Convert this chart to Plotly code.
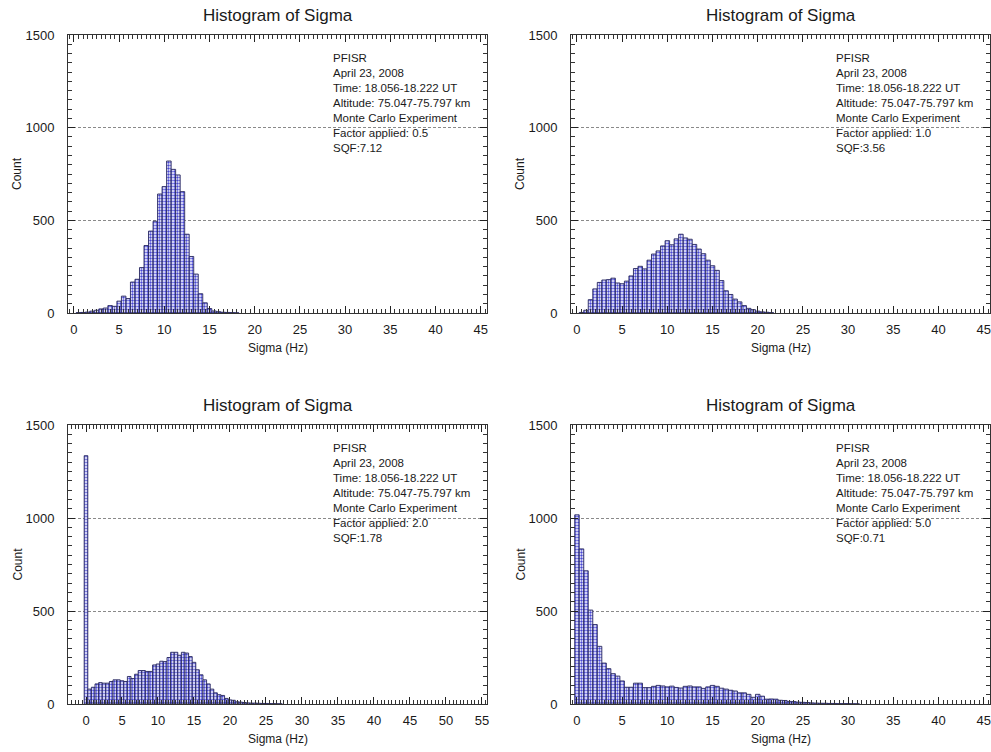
import plotly.graph_objects as go

# Histogram counts per 0.5 Hz bin (bin centres start at the given value)
bin_width = 0.5

start_f05 = 0.5
counts_f05 = [2, 3, 5, 10, 15, 22, 27, 40, 36, 64, 91, 78, 167, 182, 245, 364,
              442, 495, 642, 682, 820, 775, 745, 655, 425, 305, 210, 104, 55,
              24, 11, 7, 4, 3, 2, 1]

start_f10 = 0.5
counts_f10 = [3, 15, 72, 130, 165, 178, 180, 188, 162, 158, 172, 200, 240, 252,
              238, 285, 318, 335, 362, 390, 368, 400, 425, 405, 398, 370, 345,
              320, 285, 255, 230, 175, 120, 100, 75, 60, 40, 25, 18, 10, 6, 4, 2]

start_f20 = 0.0
counts_f20 = [1335, 80, 90, 108, 115, 112, 112, 121, 130, 130, 125, 121, 148, 137,
              160, 180, 180, 175, 175, 210, 215, 230, 228, 250, 278, 278, 262,
              278, 274, 255, 224, 184, 157, 130, 108, 80, 60, 50, 46, 30, 22, 20,
              12, 10, 8, 6, 5, 5, 4, 3, 3, 2, 2, 1, 1]

start_f50 = 0.0
counts_f50 = [1017, 834, 716, 505, 427, 310, 220, 190, 163, 150, 124, 90, 90, 112,
              112, 88, 88, 95, 100, 97, 92, 96, 89, 86, 95, 97, 92, 92, 84, 92,
              100, 95, 85, 80, 74, 70, 60, 60, 52, 36, 52, 42, 26, 27, 26, 20, 19,
              14, 13, 10, 9, 8, 6, 5, 4, 4, 3, 3, 2, 2, 2, 1, 1]

factors = ["0.5", "1.0", "2.0", "5.0"]
sqf = ["7.12", "3.56", "1.78", "0.71"]
x_ticks_45 = list(range(0, 50, 5))
x_ticks_55 = list(range(0, 60, 5))
y_ticks = [0, 500, 1000, 1500]

panels = [
    (start_f05, counts_f05, factors[0], sqf[0], [-0.66, 45.7], x_ticks_45),
    (start_f10, counts_f10, factors[1], sqf[1], [-0.66, 45.7], x_ticks_45),
    (start_f20, counts_f20, factors[2], sqf[2], [-2.5, 55.7], x_ticks_55),
    (start_f50, counts_f50, factors[3], sqf[3], [-0.66, 45.7], x_ticks_45),
]

W, H = 991, 752
# plot-area boxes in pixels: (left, right, top, bottom)
boxes = [(68, 487, 35, 313), (571, 990, 35, 313),
         (68, 487, 425, 704), (571, 990, 425, 704)]

FONT = "Liberation Sans, Arial, sans-serif"
TXT = "#1a1a1a"

fig = go.Figure()
layout = dict(width=W, height=H, margin=dict(l=0, r=0, t=0, b=0, autoexpand=False),
              paper_bgcolor="white", plot_bgcolor="white", showlegend=False,
              font=dict(family=FONT, color=TXT), annotations=[])

x_minor = dict(dtick=0.5, tick0=0, ticks="inside", ticklen=4, tickcolor="#333",
               tickwidth=1, showgrid=False)
y_minor = dict(dtick=50, tick0=0, ticks="inside", ticklen=4, tickcolor="#333",
               tickwidth=1, showgrid=False)

for i, (start, counts, fac, q, xr, xt) in enumerate(panels):
    n = i + 1
    xa = "x" if n == 1 else f"x{n}"
    ya = "y" if n == 1 else f"y{n}"
    xt_id, yr_id = f"x{n + 4}", f"y{n + 4}"
    centres = [start + bin_width * k for k in range(len(counts))]
    fig.add_trace(go.Bar(
        x=centres, y=counts, width=bin_width, xaxis=xa, yaxis=ya,
        marker=dict(color="#ffffff",
                    pattern=dict(shape=".", fgcolor="#4a4ad4", bgcolor="#ffffff",
                                 size=3, solidity=0.5, fillmode="replace"),
                    line=dict(color="#26265e", width=0.9)),
        hoverinfo="x+y"))
    # invisible traces so the top / right tick axes get drawn
    fig.add_trace(go.Scatter(x=[xr[0]], y=[0], xaxis=xt_id, yaxis=ya, mode="markers",
                             marker=dict(size=1, opacity=0), hoverinfo="skip"))
    fig.add_trace(go.Scatter(x=[xr[0]], y=[0], xaxis=xa, yaxis=yr_id, mode="markers",
                             marker=dict(size=1, opacity=0), hoverinfo="skip"))

    l, r, t, b = boxes[i]
    dom_x = [l / W, r / W]
    dom_y = [1 - b / H, 1 - t / H]
    axis_common = dict(showline=True, linecolor="#333", linewidth=1, mirror=True,
                       ticks="inside", tickcolor="#222", ticklen=7, automargin=False,
                       tickfont=dict(size=13, family=FONT, color=TXT), zeroline=False,
                       type="linear")
    layout["xaxis" if n == 1 else f"xaxis{n}"] = dict(
        domain=dom_x, anchor=ya, range=xr, tickmode="array", tickvals=xt,
        ticktext=[str(v) for v in xt], showgrid=False, ticklabelstandoff=4,
        minor=x_minor, **axis_common)
    layout["yaxis" if n == 1 else f"yaxis{n}"] = dict(
        domain=dom_y, anchor=xa, range=[0, 1500], tickmode="array", tickvals=y_ticks,
        ticktext=[str(v) for v in y_ticks], showgrid=True, gridcolor="#8a8a8a",
        griddash="3px,2px", gridwidth=1, ticklabelstandoff=10,
        minor=y_minor, **axis_common)

    # tick marks along the top and right edges of the frame
    tick_only = dict(showline=False, showgrid=False, zeroline=False, showticklabels=False,
                     ticks="inside", tickcolor="#222", ticklen=7, automargin=False,
                     type="linear", fixedrange=True)
    layout[f"xaxis{n + 4}"] = dict(
        overlaying=xa, side="top", anchor=ya, range=xr, tickmode="array",
        tickvals=xt, minor=x_minor, **tick_only)
    layout[f"yaxis{n + 4}"] = dict(
        overlaying=ya, side="right", anchor=xa, range=[0, 1500], tickmode="array",
        tickvals=y_ticks, minor=y_minor, **tick_only)

    cx = (l + r) / 2 / W
    layout["annotations"] += [
        dict(text="Histogram of Sigma", x=cx, y=1 - (t - 20) / H, xref="paper", yref="paper",
             xanchor="center", yanchor="middle", showarrow=False,
             font=dict(size=17, family=FONT, color=TXT)),
        dict(text="Sigma (Hz)", x=cx, y=1 - (b + 35) / H, xref="paper", yref="paper",
             xanchor="center", yanchor="middle", showarrow=False,
             font=dict(size=12, family=FONT, color=TXT)),
        dict(text="Count", x=(l - 51) / W, y=1 - (t + b) / 2 / H, xref="paper", yref="paper",
             xanchor="center", yanchor="middle", showarrow=False, textangle=-90,
             font=dict(size=12, family=FONT, color=TXT)),
    ]
    info = ["PFISR", "April 23, 2008", "Time: 18.056-18.222 UT",
            "Altitude: 75.047-75.797 km", "Monte Carlo Experiment",
            f"Factor applied: {fac}", f"SQF:{q}"]
    for j, line in enumerate(info):
        layout["annotations"].append(dict(
            text=line, x=(l + 263) / W, y=1 - (t + 23 + 15 * j) / H,
            xref="paper", yref="paper", xanchor="left", yanchor="middle",
            showarrow=False, font=dict(size=11.5, family=FONT, color=TXT)))

fig.update_layout(**layout)
fig.write_html("out.html")
